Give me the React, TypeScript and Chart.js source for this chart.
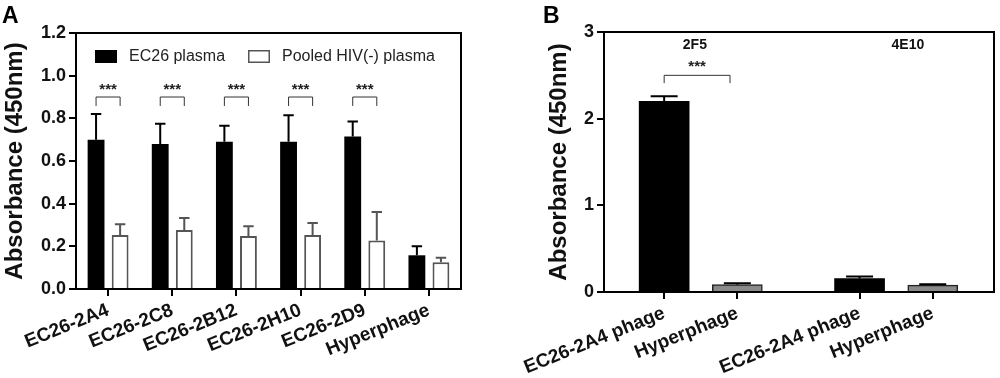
import React, { useEffect, useRef } from 'react';
import { Chart, registerables } from 'chart.js';

Chart.register(...registerables);

const FONT = '"Liberation Sans", Arial, Helvetica, sans-serif';

// ---------- Panel A data ----------
const categoriesA = ['EC26-2A4', 'EC26-2C8', 'EC26-2B12', 'EC26-2H10', 'EC26-2D9', 'Hyperphage'];
const seriesNamesA = ['EC26 plasma', 'Pooled HIV(-) plasma'];
const ec26Mean = [0.70, 0.68, 0.69, 0.69, 0.715, 0.158];
const ec26Upper = [0.82, 0.775, 0.765, 0.815, 0.785, 0.20];
const pooledMean = [0.253, 0.277, 0.249, 0.253, 0.227, 0.125];
const pooledUpper = [0.304, 0.333, 0.294, 0.309, 0.361, 0.147];
const sigIndicesA = [0, 1, 2, 3, 4];
const sigText = '***';
const yTicksA = [0, 0.2, 0.4, 0.6, 0.8, 1.0, 1.2];
const yTitle = 'Absorbance (450nm)';

// ---------- Panel B data ----------
const categoriesB = ['EC26-2A4 phage', 'Hyperphage', 'EC26-2A4 phage', 'Hyperphage'];
const xPositionsB = [0, 1, 2.67, 3.67];
const meanB = [2.20, 0.085, 0.155, 0.08];
const upperB = [2.26, 0.10, 0.18, 0.09];
const isPhageB = [true, false, true, false];
const groupLabelsB = ['2F5', '4E10'];
const groupLabelXB = [0.42, 3.33];
const sigPairB = [0, 0.9];
const yTicksB = [0, 1, 2, 3];

type ErrSpec = { upper: number[][]; colors: (string | string[])[]; capRatio: number };

function drawErrorBars(chart: any, spec: ErrSpec) {
  const { ctx } = chart;
  const yScale = chart.scales.y;
  ctx.save();
  ctx.lineWidth = 2;
  spec.upper.forEach((ups, d) => {
    const meta = chart.getDatasetMeta(d);
    meta.data.forEach((el: any, i: number) => {
      const c = spec.colors[d];
      ctx.strokeStyle = Array.isArray(c) ? c[i] : c;
      const yTop = el.y;
      const yErr = yScale.getPixelForValue(ups[i]);
      const cw = el.width * spec.capRatio;
      ctx.beginPath();
      ctx.moveTo(el.x, yTop);
      ctx.lineTo(el.x, yErr);
      ctx.moveTo(el.x - cw / 2, yErr);
      ctx.lineTo(el.x + cw / 2, yErr);
      ctx.stroke();
    });
  });
  ctx.restore();
}

function drawFrame(chart: any) {
  const { ctx, chartArea: ca } = chart;
  ctx.save();
  ctx.strokeStyle = '#000';
  ctx.lineWidth = 2;
  ctx.beginPath();
  ctx.moveTo(ca.left, ca.top);
  ctx.lineTo(ca.right, ca.top);
  ctx.lineTo(ca.right, ca.bottom);
  ctx.stroke();
  ctx.restore();
}

function drawBracket(chart: any, x1: number, x2: number, yTop: number, yLeg: number, yText: number) {
  const { ctx } = chart;
  ctx.save();
  ctx.strokeStyle = '#333';
  ctx.lineWidth = 1;
  ctx.beginPath();
  ctx.moveTo(x1, yLeg);
  ctx.lineTo(x1, yTop);
  ctx.lineTo(x2, yTop);
  ctx.lineTo(x2, yLeg);
  ctx.stroke();
  ctx.fillStyle = '#222';
  ctx.font = `bold 15px ${FONT}`;
  ctx.textAlign = 'center';
  ctx.textBaseline = 'middle';
  ctx.fillText(sigText, (x1 + x2) / 2, yText);
  ctx.restore();
}

function drawLetter(chart: any, letter: string, x: number, y: number) {
  const { ctx } = chart;
  ctx.save();
  ctx.fillStyle = '#000';
  ctx.font = `bold 23px ${FONT}`;
  ctx.textAlign = 'left';
  ctx.textBaseline = 'top';
  ctx.fillText(letter, x, y);
  ctx.restore();
}

const panelAPlugin = {
  id: 'panelA',
  afterDatasetsDraw(chart: any) {
    const { ctx, chartArea: ca } = chart;
    const y = chart.scales.y;
    drawFrame(chart);
    drawErrorBars(chart, { upper: [ec26Upper, pooledUpper], colors: ['#000', '#555'], capRatio: 0.62 });
    const m0 = chart.getDatasetMeta(0);
    const m1 = chart.getDatasetMeta(1);
    sigIndicesA.forEach((i) => {
      drawBracket(chart, m0.data[i].x, m1.data[i].x, y.getPixelForValue(0.9), y.getPixelForValue(0.858), y.getPixelForValue(0.935));
    });
    // legend
    ctx.save();
    ctx.font = `16px ${FONT}`;
    ctx.textBaseline = 'middle';
    ctx.textAlign = 'left';
    const lx = [ca.left + 19, ca.left + 172];
    chart.data.datasets.forEach((ds: any, d: number) => {
      const bx = lx[d];
      const by = ca.top + 17;
      if (d === 0) {
        ctx.fillStyle = '#000';
        ctx.fillRect(bx, by, 22, 13);
      } else {
        ctx.fillStyle = '#fff';
        ctx.fillRect(bx, by, 22, 13);
        ctx.strokeStyle = '#555';
        ctx.lineWidth = 1.5;
        ctx.strokeRect(bx + 0.75, by + 0.75, 20.5, 11.5);
      }
      ctx.fillStyle = '#222';
      ctx.fillText(ds.label, bx + 34, by + 7);
    });
    ctx.restore();
    drawLetter(chart, 'A', 2, 5);
  },
};

const panelBPlugin = {
  id: 'panelB',
  afterDatasetsDraw(chart: any) {
    const { ctx } = chart;
    const x = chart.scales.x;
    const y = chart.scales.y;
    drawFrame(chart);
    drawErrorBars(chart, { upper: [upperB], colors: ['#000'], capRatio: 0.54 });
    drawBracket(chart, x.getPixelForValue(sigPairB[0]), x.getPixelForValue(sigPairB[1]), y.getPixelForValue(2.5), y.getPixelForValue(2.41), y.getPixelForValue(2.6));
    ctx.save();
    ctx.fillStyle = '#111';
    ctx.font = `bold 14px ${FONT}`;
    ctx.textAlign = 'center';
    ctx.textBaseline = 'middle';
    groupLabelsB.forEach((g, i) => {
      ctx.fillText(g, x.getPixelForValue(groupLabelXB[i]), y.getPixelForValue(2.85));
    });
    ctx.restore();
    drawLetter(chart, 'B', 43, 5);
  },
};

const axisGrid = {
  display: true,
  drawOnChartArea: false,
  drawTicks: true,
  tickLength: 7,
  color: '#000',
  lineWidth: 2,
  offset: false,
};
const axisBorder = { display: true, color: '#000', width: 2 };

export default function App() {
  const refA = useRef<HTMLCanvasElement>(null);
  const refB = useRef<HTMLCanvasElement>(null);

  useEffect(() => {
    const chartA = new Chart(refA.current as HTMLCanvasElement, {
      type: 'bar',
      data: {
        labels: categoriesA,
        datasets: [
          { label: seriesNamesA[0], data: ec26Mean, backgroundColor: '#000', borderWidth: 0 },
          { label: seriesNamesA[1], data: pooledMean, backgroundColor: '#fff', borderColor: '#555', borderWidth: 2 },
        ],
      },
      options: {
        responsive: false,
        animation: false,
        categoryPercentage: 0.75,
        barPercentage: 0.7,
        layout: { padding: { left: 0, top: 33, right: 39, bottom: 0 } },
        plugins: { legend: { display: false }, tooltip: { enabled: false } },
        scales: {
          x: {
            grid: axisGrid,
            border: axisBorder,
            ticks: {
              color: '#111',
              font: { family: FONT, size: 19, weight: 'bold' },
              minRotation: 22,
              maxRotation: 22,
              autoSkip: false,
              padding: 3,
            },
            afterFit: (s: any) => { s.height = 89; },
          },
          y: {
            min: 0,
            max: 1.2,
            grid: axisGrid,
            border: axisBorder,
            afterBuildTicks: (s: any) => { s.ticks = yTicksA.map((v) => ({ value: v })); },
            ticks: {
              color: '#111',
              font: { family: FONT, size: 18, weight: 'bold' },
              padding: 3,
              callback: (v: any) => Number(v).toFixed(1),
            },
            title: {
              display: true,
              text: yTitle,
              color: '#111',
              font: { family: FONT, size: 24, weight: 'bold' },
              padding: { top: 1, bottom: 0 },
            },
            afterFit: (s: any) => { s.width = 76; },
          },
        },
      } as any,
      plugins: [panelAPlugin],
    });

    const chartB = new Chart(refB.current as HTMLCanvasElement, {
      type: 'bar',
      data: {
        datasets: [
          {
            label: 'Absorbance',
            data: xPositionsB.map((xv, i) => ({ x: xv, y: meanB[i] })),
            backgroundColor: isPhageB.map((p) => (p ? '#000' : '#8a8a8a')),
            borderColor: isPhageB.map((p) => (p ? '#000' : '#222')),
            borderWidth: isPhageB.map((p) => (p ? 0 : 1.5)),
            barThickness: 50,
          },
        ],
      },
      options: {
        responsive: false,
        animation: false,
        layout: { padding: { left: 45, top: 32, right: 6, bottom: 0 } },
        plugins: { legend: { display: false }, tooltip: { enabled: false } },
        scales: {
          x: {
            type: 'linear',
            offset: false,
            min: -0.822,
            max: 4.507,
            grid: axisGrid,
            border: axisBorder,
            afterBuildTicks: (s: any) => { s.ticks = xPositionsB.map((v) => ({ value: v })); },
            ticks: {
              color: '#111',
              font: { family: FONT, size: 19, weight: 'bold' },
              minRotation: 22,
              maxRotation: 22,
              autoSkip: false,
              padding: 3,
              callback: (_v: any, i: number) => categoriesB[i],
            },
            afterFit: (s: any) => { s.height = 86; },
          },
          y: {
            min: 0,
            max: 3,
            grid: axisGrid,
            border: axisBorder,
            afterBuildTicks: (s: any) => { s.ticks = yTicksB.map((v) => ({ value: v })); },
            ticks: {
              color: '#111',
              font: { family: FONT, size: 18, weight: 'bold' },
              padding: 3,
              callback: (v: any) => String(v),
            },
            title: {
              display: true,
              text: yTitle,
              color: '#111',
              font: { family: FONT, size: 24, weight: 'bold' },
              padding: { top: 0, bottom: 0 },
            },
            afterFit: (s: any) => { s.width = 59; },
          },
        },
      } as any,
      plugins: [panelBPlugin],
    });

    return () => {
      chartA.destroy();
      chartB.destroy();
    };
  }, []);

  return (
    <div style={{ position: 'absolute', left: 0, top: 0, width: 1000, height: 378, background: '#fff' }}>
      <canvas ref={refA} width={500} height={378} style={{ position: 'absolute', left: 0, top: 0, width: 500, height: 378 }} />
      <canvas ref={refB} width={500} height={378} style={{ position: 'absolute', left: 500, top: 0, width: 500, height: 378 }} />
    </div>
  );
}
